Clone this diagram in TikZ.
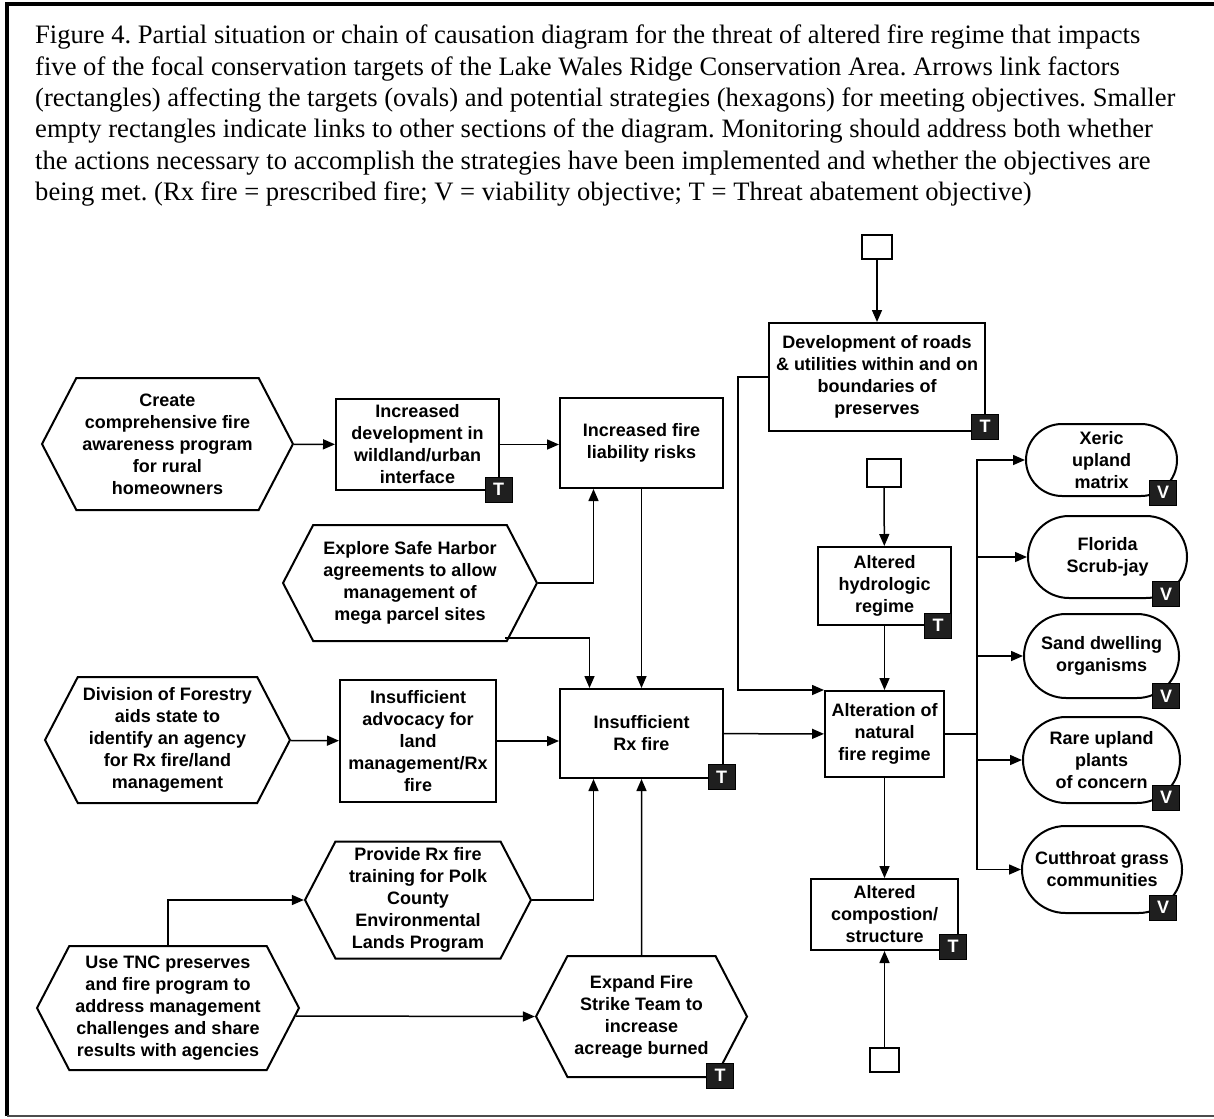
\documentclass[tikz,border=0pt]{standalone}
\usepackage{fontspec}
\setmainfont{Liberation Serif}
\newfontfamily\boxfont{Liberation Sans}
\usetikzlibrary{calc}
\usetikzlibrary{positioning}
\usetikzlibrary{shapes.misc}
\usetikzlibrary{shapes.symbols}
\usetikzlibrary{arrows.meta}
\frenchspacing
\tikzstyle{factor} = [draw, line width=2pt, align=center, inner sep=0, font=\boxfont\bfseries\fontsize{18}{22}\selectfont]
\tikzstyle{strategy} = [factor, signal, signal to=east and west, signal pointer angle=125]
\tikzstyle{target} = [factor, rounded rectangle]
\tikzstyle{linkbox} = [draw, line width=1.5pt, inner sep=0]
\tikzstyle{badge} = [draw=black, fill=black!88, line width=1pt, text=white, inner sep=0, minimum width=27pt, minimum height=25pt, font=\boxfont\bfseries\fontsize{18}{18}\selectfont]
\tikzstyle{link} = [line width=1.5pt, -{Triangle[length=12pt,width=10pt]}]
\tikzstyle{caption} = [anchor=north west, align=left, inner sep=0, font=\fontsize{26.6}{31.3}\selectfont]

\begin{document}
\begin{tikzpicture}[x=1pt, y=-1pt]
    \useasboundingbox (0,0) rectangle (1214,1118);
    \draw[line width=3.5pt] (7,1116) -- (7,4) -- (1214,4);
    \draw[line width=1.5pt, black!70] (7,1116) -- (1214,1116);

    \node[caption] (cap) at (35,25) {Figure 4. Partial situation or chain of causation diagram for the threat of altered fire regime that impacts\\
        five of the focal conservation targets of the Lake Wales Ridge Conservation Area. Arrows link factors\\
        (rectangles) affecting the targets (ovals) and potential strategies (hexagons) for meeting objectives. Smaller\\
        empty rectangles indicate links to other sections of the diagram. Monitoring should address both whether\\
        the actions necessary to accomplish the strategies have been implemented and whether the objectives are\\
        being met. (Rx fire = prescribed fire; V = viability objective; T = Threat abatement objective)};

    % strategies
    \node[strategy, minimum width=251pt, minimum height=132pt] (s_create) at (167.5,444) {Create\\comprehensive fire\\awareness program\\for rural\\homeowners};
    \node[strategy, minimum width=254pt, minimum height=116pt] (s_explore) at (410,583) {Explore Safe Harbor\\agreements to allow\\management of\\mega parcel sites};
    \node[strategy, minimum width=245pt, minimum height=126pt] (s_division) at (167.5,740) {Division of Forestry\\aids state to\\identify an agency\\for Rx fire/land\\management};
    \node[strategy, minimum width=226pt, minimum height=117pt] (s_provide) at (418,900) {Provide Rx fire\\training for Polk\\County\\Environmental\\Lands Program};
    \node[strategy, minimum width=262pt, minimum height=124pt] (s_use) at (168,1008) {Use TNC preserves\\and fire program to\\address management\\challenges and share\\results with agencies};
    \node[strategy, minimum width=211pt, minimum height=121pt] (s_expand) at (641.5,1016.5) {Expand Fire\\Strike Team to\\increase\\acreage burned};

    % factors
    \node[factor, minimum width=163pt, minimum height=91pt] (f_incdev) at (417.5,444.5) {Increased\\development in\\wildland/urban\\interface};
    \node[factor, minimum width=163pt, minimum height=90pt] (f_liab) at ($(f_incdev)+(224,-1.5)$) {Increased fire\\liability risks};
    \node[factor, minimum width=163pt, minimum height=89pt] (f_insuff) at (641.5,733.5) {Insufficient\\Rx fire};
    \node[factor, minimum width=156pt, minimum height=122pt] (f_advoc) at (418,741) {Insufficient\\advocacy for\\land\\management/Rx\\fire};
    \node[factor, minimum width=216pt, minimum height=108pt] (f_dev) at (877,377) {Development of roads\\\& utilities within and on\\boundaries of\\preserves};
    \node[factor, minimum width=133pt, minimum height=78pt] (f_hydro) at (884.5,586) {Altered\\hydrologic\\regime};
    \node[factor, minimum width=119pt, minimum height=86pt] (f_alter) at (884.5,734) {Alteration of\\natural\\fire regime};
    \node[factor, minimum width=147pt, minimum height=71pt] (f_comp) at (884.5,914.5) {Altered\\compostion/\\structure};

    % links to other sections
    \node[linkbox, minimum width=30pt, minimum height=24pt] (link_top) at (877,247) {};
    \node[linkbox, minimum width=34pt, minimum height=28pt] (link_hyd) at (884,473) {};
    \node[linkbox, minimum width=29pt, minimum height=24pt] (link_bot) at (884.5,1060) {};

    % targets
    \node[target, minimum width=151pt, minimum height=72pt] (t_xeric) at (1101.5,460) {Xeric\\upland\\matrix};
    \node[target, minimum width=159pt, minimum height=82pt] (t_scrub) at (1107.5,557) {Florida\\Scrub-jay};
    \node[target, minimum width=155pt, minimum height=84pt] (t_sand) at (1101.5,656) {Sand dwelling\\organisms};
    \node[target, minimum width=157pt, minimum height=86pt] (t_rare) at (1101.5,760) {Rare upland\\plants\\of concern};
    \node[target, minimum width=160pt, minimum height=87pt] (t_cut) at (1102,869.5) {Cutthroat grass\\communities};

    % objectives
    \node[badge] (b_incdev) at ($(f_incdev.south east)+(-1.5,-1.5)$) {T};
    \node[badge] (b_insuff) at ($(f_insuff.south east)+(-2.5,-2)$) {T};
    \node[badge] (b_dev) at ($(f_dev.south east)+(-1,-5.5)$) {T};
    \node[badge] (b_hydro) at ($(f_hydro.south east)+(-14,-0.5)$) {T};
    \node[badge] (b_comp) at ($(f_comp.south east)+(-6,-4.5)$) {T};
    \node[badge] (b_expand) at ($(s_expand.south)+(78.5,-2.5)$) {T};
    \node[badge] (b_xeric) at ($(t_xeric.south)+(61.5,-4.5)$) {V};
    \node[badge] (b_scrub) at ($(t_scrub.south)+(58.5,-5)$) {V};
    \node[badge] (b_sand) at ($(t_sand.south)+(64.5,-3)$) {V};
    \node[badge] (b_rare) at ($(t_rare.south)+(64.5,-6.5)$) {V};
    \node[badge] (b_cut) at ($(t_cut.south)+(61,-6.5)$) {V};

    \draw[link] (s_create) -- (f_incdev);
    \draw[link] (f_incdev.east) -- (f_incdev.east -| f_liab.west);
    \draw[link] (s_explore.east) -| ($(f_liab.south)+(-48,0)$);
    \draw[link] ($(s_explore.south)+(95,-4)$) -| ($(f_insuff.north)+(-52,0)$);
    \draw[link] (f_liab) -- (f_insuff);
    \draw[link] (s_division) -- (f_advoc);
    \draw[link] (f_advoc.east) -- (f_advoc.east -| f_insuff.west);
    \draw[link] (s_use.north) |- (s_provide.west);
    \draw[link] (s_provide.east) -| ($(f_insuff.south)+(-48,0)$);
    \draw[link] ($(s_use.east)+(-4,8)$) -- (s_expand.west);
    \draw[link] (s_expand) -- (f_insuff);
    \draw[link] (f_insuff) -- (f_alter);
    \draw[link] (link_top) -- (f_dev);
    \draw[link] (f_dev.west) -- ++(-30,0) |- (f_alter.north west);
    \draw[link] (link_hyd) -- (f_hydro);
    \draw[link] (f_hydro) -- (f_alter);
    \draw[link] (f_alter) -- (f_comp);
    \draw[link] (link_bot) -- (f_comp);
    \draw[line width=1.5pt] (f_alter.east) -- ++(32,0) coordinate (bus);
    \draw[link] (bus) |- (t_xeric.west);
    \draw[link] (bus) |- (t_scrub.west);
    \draw[link] (bus) |- (t_sand.west);
    \draw[link] (bus) |- (t_rare.west);
    \draw[link] (bus) |- (t_cut.west);
\end{tikzpicture}
\end{document}
